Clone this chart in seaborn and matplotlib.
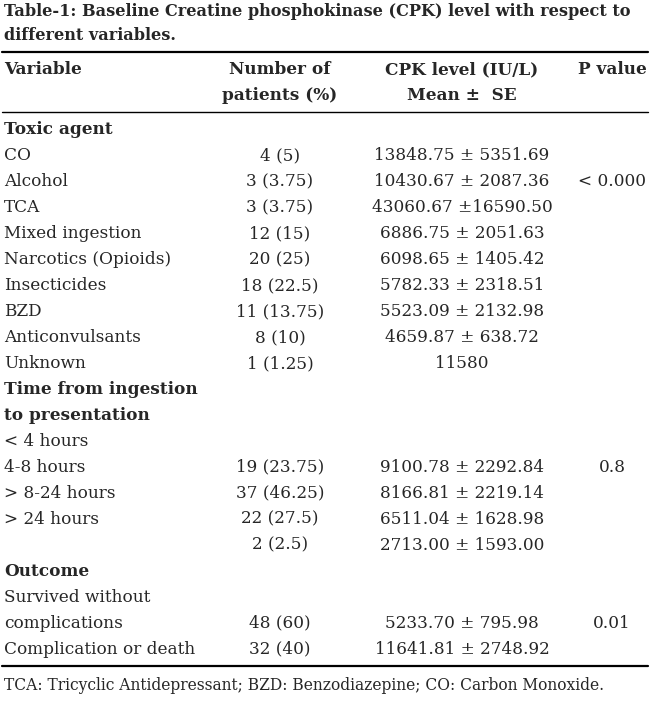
import matplotlib.pyplot as plt
import seaborn as sns

sns.set_theme(style="white")
plt.rcParams['font.family'] = ['DejaVu Serif']

title = ["Table-1: Baseline Creatine phosphokinase (CPK) level with respect to",
         "different variables."]
headers = [("Variable", ""), ("Number of", "patients (%)"), ("CPK level (IU/L)", "Mean \u00b1  SE"), ("P value", "")]

variables = ["Toxic agent", "CO", "Alcohol", "TCA", "Mixed ingestion", "Narcotics (Opioids)",
             "Insecticides", "BZD", "Anticonvulsants", "Unknown", "Time from ingestion",
             "to presentation", "< 4 hours", "4-8 hours", "> 8-24 hours", "> 24 hours", "",
             "Outcome", "Survived without", "complications", "Complication or death"]
patients = ["", "4 (5)", "3 (3.75)", "3 (3.75)", "12 (15)", "20 (25)", "18 (22.5)", "11 (13.75)",
            "8 (10)", "1 (1.25)", "", "", "", "19 (23.75)", "37 (46.25)", "22 (27.5)", "2 (2.5)",
            "", "", "48 (60)", "32 (40)"]
cpk = ["", "13848.75 \u00b1 5351.69", "10430.67 \u00b1 2087.36", "43060.67 \u00b116590.50",
       "6886.75 \u00b1 2051.63", "6098.65 \u00b1 1405.42", "5782.33 \u00b1 2318.51",
       "5523.09 \u00b1 2132.98", "4659.87 \u00b1 638.72", "11580", "", "", "",
       "9100.78 \u00b1 2292.84", "8166.81 \u00b1 2219.14", "6511.04 \u00b1 1628.98",
       "2713.00 \u00b1 1593.00", "", "", "5233.70 \u00b1 795.98", "11641.81 \u00b1 2748.92"]
pvalues = ["", "", "< 0.000", "", "", "", "", "", "", "", "", "", "", "0.8", "", "", "", "", "", "0.01", ""]
bold_rows = {"Toxic agent", "Time from ingestion", "to presentation", "Outcome"}
footnote = "TCA: Tricyclic Antidepressant; BZD: Benzodiazepine; CO: Carbon Monoxide."

W, H = 650, 702
fig = plt.figure(figsize=(6.5, 7.02), dpi=100)
ax = fig.add_axes([0, 0, 1, 1])
ax.set_xlim(0, W)
ax.set_ylim(H, 0)
ax.axis("off")

fs = 12.2
for i, t in enumerate(title):
    ax.text(4, 12 + 24 * i, t, fontsize=11.6, weight="bold", va="center")

ax.plot([2, 648], [52, 52], color="black", lw=1.6)
col_x = [4, 280, 462, 612]
for j, (a, b) in enumerate(headers):
    ha = "left" if j == 0 else "center"
    ax.text(col_x[j], 70, a, fontsize=fs, weight="bold", va="center", ha=ha)
    if b:
        ax.text(col_x[j], 96, b, fontsize=fs, weight="bold", va="center", ha=ha)
ax.plot([2, 648], [112, 112], color="black", lw=1.0)

for i in range(len(variables)):
    y = 130 + 25.95 * i
    w = "bold" if variables[i] in bold_rows else "normal"
    ax.text(col_x[0], y, variables[i], fontsize=fs, weight=w, va="center")
    ax.text(col_x[1], y, patients[i], fontsize=fs, va="center", ha="center")
    ax.text(col_x[2], y, cpk[i], fontsize=fs, va="center", ha="center")
    ax.text(col_x[3], y, pvalues[i], fontsize=fs, va="center", ha="center")

ax.plot([2, 648], [666, 666], color="black", lw=1.6)
ax.text(4, 686, footnote, fontsize=11.2, va="center")

fig.savefig("out.png", dpi=100, facecolor="white")
